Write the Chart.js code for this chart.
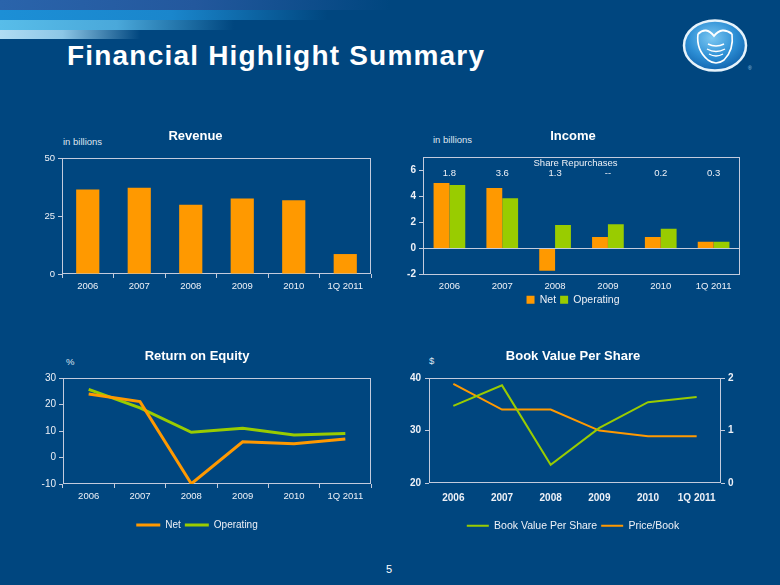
<!DOCTYPE html>
<html>
<head>
<meta charset="utf-8">
<script src="https://cdn.jsdelivr.net/npm/chart.js@4.4.1/dist/chart.umd.min.js"></script>
<style>
  html, body { margin:0; padding:0; }
  body { width:780px; height:585px; position:relative; overflow:hidden; background:#00467f; font-family:'Liberation Sans', Arial, sans-serif; }
  .band { position:absolute; left:0; width:780px; }
  .txt { position:absolute; color:#dfe5ef; white-space:nowrap; }
  canvas { position:absolute; }
</style>
</head>
<body>
<div class="band" style="top:0;height:10px;background:linear-gradient(90deg,#2a64ab 0%,#23589d 25%,rgba(0,70,127,0) 50%);"></div>
<div class="band" style="top:10px;height:10px;background:linear-gradient(90deg,#1c8fd6 0%,#1a86cc 22%,rgba(0,70,127,0) 42%);"></div>
<div class="band" style="top:20px;height:10px;background:linear-gradient(90deg,#58bde9 0%,#4aa8da 15%,rgba(0,70,127,0) 30%);"></div>
<div class="band" style="top:30px;height:9px;background:linear-gradient(90deg,#b0dcf3 0%,#8cc6e6 8%,rgba(0,70,127,0) 18%);"></div>

<div class="txt" style="left:67px;top:42px;font-size:28px;line-height:28px;font-weight:bold;color:#ffffff;letter-spacing:1.2px;">Financial Highlight Summary</div>

<svg width="80" height="62" style="position:absolute;left:676px;top:14px" viewBox="0 0 80 62">
  <defs>
    <radialGradient id="lg" cx="45%" cy="35%" r="70%">
      <stop offset="0" stop-color="#7cc8f2"/>
      <stop offset="0.55" stop-color="#2d8fd5"/>
      <stop offset="1" stop-color="#0d5ea9"/>
    </radialGradient>
  </defs>
  <ellipse cx="39" cy="31.5" rx="31" ry="25" fill="url(#lg)" stroke="#e6f3fb" stroke-width="2.5"/>
  <path d="M22 20 Q30 12 38 22 Q46 12 56 20" fill="none" stroke="#ffffff" stroke-width="2"/>
  <path d="M22 20 Q20 36 32 46 Q40 52 48 46 Q58 36 56 20" fill="none" stroke="#ffffff" stroke-width="1.6"/>
  <path d="M32 30 Q40 34 48 30 M31 35 Q40 40 49 35 M33 40 Q40 44 47 40" fill="none" stroke="#ffffff" stroke-width="1.4"/>
  <text x="72" y="56" font-size="5" fill="#9fc6e6">®</text>
</svg>

<div class="txt" style="left:63px;top:137px;font-size:9.5px;line-height:10px;">in billions</div>
<div class="txt" style="left:433px;top:135px;font-size:9.5px;line-height:10px;">in billions</div>
<div class="txt" style="left:66px;top:357px;font-size:9.5px;line-height:10px;">%</div>
<div class="txt" style="left:429px;top:356px;font-size:9.5px;line-height:10px;">$</div>
<div class="txt" style="left:386px;top:563px;font-size:11px;line-height:12px;color:#ffffff;">5</div>

<canvas id="c1" width="366" height="190" style="left:20px;top:120px;"></canvas>
<canvas id="c2" width="360" height="195" style="left:396px;top:120px;"></canvas>
<canvas id="c3" width="372" height="200" style="left:23px;top:340px;"></canvas>
<canvas id="c4" width="360" height="201" style="left:398px;top:340px;"></canvas>

<script>
// ---------- data ----------
const years = ['2006', '2007', '2008', '2009', '2010', '1Q 2011'];
const revenue = [36.4, 37.2, 29.8, 32.5, 31.8, 8.6];
const incomeNet = [5.0, 4.62, -1.72, 0.87, 0.87, 0.51];
const incomeOperating = [4.85, 3.85, 1.79, 1.85, 1.51, 0.51];
const shareRepurchases = ['1.8', '3.6', '1.3', '--', '0.2', '0.3'];
const roeNet = [24.0, 21.1, -9.9, 5.9, 5.2, 7.0];
const roeOperating = [25.7, 18.7, 9.5, 11.0, 8.5, 9.1];
const bookValuePerShare = [34.7, 38.6, 23.5, 30.5, 35.4, 36.4];
const priceToBook = [1.89, 1.40, 1.40, 1.00, 0.89, 0.89];

// ---------- styles ----------
const ORANGE = '#ff9900';
const GREEN = '#99cc00';
const AXIS = '#c3cbdd';
const LABEL = '#eef1f7';
const FONT = "'Liberation Sans', Arial, sans-serif";

Chart.defaults.font.family = FONT;
Chart.defaults.color = LABEL;
Chart.defaults.animation = false;

const framePlugin = {
  id: 'frame',
  beforeDatasetsDraw(chart) {
    const { ctx, chartArea: a } = chart;
    ctx.save();
    ctx.strokeStyle = AXIS;
    ctx.lineWidth = 1;
    ctx.strokeRect(Math.round(a.left) + 0.5, Math.round(a.top) + 0.5,
                   Math.round(a.right - a.left) - 1, Math.round(a.bottom - a.top) - 1);
    ctx.restore();
  }
};

const repurchasePlugin = {
  id: 'repurchases',
  afterDatasetsDraw(chart) {
    const { ctx, chartArea: a, scales } = chart;
    ctx.save();
    ctx.fillStyle = LABEL;
    ctx.font = '9.5px ' + FONT;
    ctx.textAlign = 'center';
    ctx.textBaseline = 'middle';
    ctx.fillText('Share Repurchases', (a.left + a.right) / 2 - 6, a.top + 6);
    shareRepurchases.forEach((v, i) => {
      ctx.fillText(v, scales.x.getPixelForValue(i), a.top + 16.5);
    });
    ctx.restore();
  }
};

function titleOpts(text) {
  return {
    display: true, text, color: '#ffffff',
    font: { size: 13, weight: 'bold', family: FONT },
    padding: { top: 0, bottom: 13.4 }
  };
}

// ---------- Revenue ----------
new Chart(document.getElementById('c1'), {
  type: 'bar',
  data: {
    labels: years,
    datasets: [{ label: 'Revenue', data: revenue, backgroundColor: ORANGE, borderWidth: 0,
                 barPercentage: 0.45, categoryPercentage: 1 }]
  },
  options: {
    responsive: false,
    layout: { padding: { top: 9, left: 0, right: 15, bottom: 0 } },
    plugins: { legend: { display: false }, tooltip: { enabled: false }, title: titleOpts('Revenue') },
    scales: {
      x: {
        afterFit(s) { s.height = 36; },
        grid: { display: true, drawOnChartArea: false, drawTicks: true, tickLength: 4, color: AXIS, offset: true },
        border: { display: false },
        ticks: { color: LABEL, font: { size: 9.5 }, padding: 3, maxRotation: 0 }
      },
      y: {
        min: 0, max: 50,
        afterFit(s) { s.width = 42; },
        grid: { display: true, drawOnChartArea: false, tickLength: 4, color: AXIS },
        border: { display: false },
        ticks: { stepSize: 25, color: LABEL, font: { size: 9.5 }, padding: 3 }
      }
    }
  },
  plugins: [framePlugin]
});

// ---------- Income ----------
new Chart(document.getElementById('c2'), {
  type: 'bar',
  data: {
    labels: years,
    datasets: [
      { label: 'Net', data: incomeNet, backgroundColor: ORANGE, borderWidth: 0, categoryPercentage: 0.6, barPercentage: 1 },
      { label: 'Operating', data: incomeOperating, backgroundColor: GREEN, borderWidth: 0, categoryPercentage: 0.6, barPercentage: 1 }
    ]
  },
  options: {
    responsive: false,
    layout: { padding: { top: 9, left: 10, right: 16, bottom: 0 } },
    plugins: {
      tooltip: { enabled: false },
      title: Object.assign(titleOpts('Income'), { padding: { top: 0, bottom: 12.4 } }),
      legend: {
        position: 'bottom',
        labels: { color: LABEL, boxWidth: 8, boxHeight: 8, padding: 4, font: { size: 10.5 } }
      }
    },
    scales: {
      x: {
        afterFit(s) { s.height = 16; },
        grid: { display: false, drawTicks: false },
        border: { display: false },
        ticks: { color: LABEL, font: { size: 9.5 }, padding: 6, maxRotation: 0 }
      },
      y: {
        min: -2, max: 7,
        afterFit(s) { s.width = 17; },
        afterBuildTicks(s) { s.ticks = s.ticks.filter(t => t.value !== 7); },
        grid: {
          display: true, drawOnChartArea: true, tickLength: 4,
          color: (c) => (c.tick && c.tick.value === 0 ? AXIS : 'rgba(0,0,0,0)'),
          tickColor: AXIS
        },
        border: { display: false },
        ticks: { stepSize: 2, color: LABEL, font: { size: 10, weight: 'bold' }, padding: 3 }
      }
    }
  },
  plugins: [framePlugin, repurchasePlugin]
});

// ---------- Return on Equity ----------
new Chart(document.getElementById('c3'), {
  type: 'line',
  data: {
    labels: years,
    datasets: [
      { label: 'Net', data: roeNet, borderColor: ORANGE, backgroundColor: ORANGE, borderWidth: 3, pointRadius: 0, tension: 0 },
      { label: 'Operating', data: roeOperating, borderColor: GREEN, backgroundColor: GREEN, borderWidth: 3, pointRadius: 0, tension: 0 }
    ]
  },
  options: {
    responsive: false,
    layout: { padding: { top: 9, left: 0, right: 24, bottom: 0 } },
    plugins: {
      tooltip: { enabled: false },
      title: titleOpts('Return on Equity'),
      legend: {
        position: 'bottom',
        labels: { color: LABEL, usePointStyle: true, pointStyle: 'line', pointStyleWidth: 24, padding: 4, font: { size: 10 } }
      }
    },
    scales: {
      x: {
        offset: true,
        afterFit(s) { s.height = 32; },
        grid: { display: true, drawOnChartArea: false, drawTicks: true, tickLength: 4, color: AXIS, offset: true },
        border: { display: false },
        ticks: { color: LABEL, font: { size: 9.5 }, padding: 3, maxRotation: 0 }
      },
      y: {
        min: -10, max: 30,
        afterFit(s) { s.width = 40; },
        grid: { display: true, drawOnChartArea: false, tickLength: 4, color: AXIS },
        border: { display: false },
        ticks: { stepSize: 10, color: LABEL, font: { size: 10 }, padding: 3 }
      }
    }
  },
  plugins: [framePlugin]
});

// ---------- Book Value Per Share ----------
new Chart(document.getElementById('c4'), {
  type: 'line',
  data: {
    labels: years,
    datasets: [
      { label: 'Book Value Per Share', data: bookValuePerShare, yAxisID: 'y', borderColor: GREEN, backgroundColor: GREEN, borderWidth: 2, pointRadius: 0, tension: 0 },
      { label: 'Price/Book', data: priceToBook, yAxisID: 'y1', borderColor: ORANGE, backgroundColor: ORANGE, borderWidth: 2, pointRadius: 0, tension: 0 }
    ]
  },
  options: {
    responsive: false,
    layout: { padding: { top: 9, left: 0, right: 10, bottom: 0 } },
    plugins: {
      tooltip: { enabled: false },
      title: titleOpts('Book Value Per Share'),
      legend: {
        position: 'bottom',
        labels: { color: LABEL, usePointStyle: true, pointStyle: 'line', pointStyleWidth: 22, padding: 4, font: { size: 10.5 } }
      }
    },
    scales: {
      x: {
        offset: true,
        afterFit(s) { s.height = 33.4; },
        grid: { display: false, drawTicks: false },
        border: { display: false },
        ticks: { color: LABEL, font: { size: 10, weight: 'bold' }, padding: 9, maxRotation: 0 }
      },
      y: {
        position: 'left', min: 20, max: 40,
        afterFit(s) { s.width = 31; },
        grid: { display: true, drawOnChartArea: false, tickLength: 4, color: AXIS },
        border: { display: false },
        ticks: { stepSize: 10, color: LABEL, font: { size: 10, weight: 'bold' }, padding: 4 }
      },
      y1: {
        position: 'right', min: 0, max: 2,
        afterFit(s) { s.width = 27; },
        grid: { display: true, drawOnChartArea: false, tickLength: 4, color: AXIS },
        border: { display: false },
        ticks: { stepSize: 1, color: LABEL, font: { size: 10, weight: 'bold' }, padding: 3 }
      }
    }
  },
  plugins: [framePlugin]
});
</script>
</body>
</html>
